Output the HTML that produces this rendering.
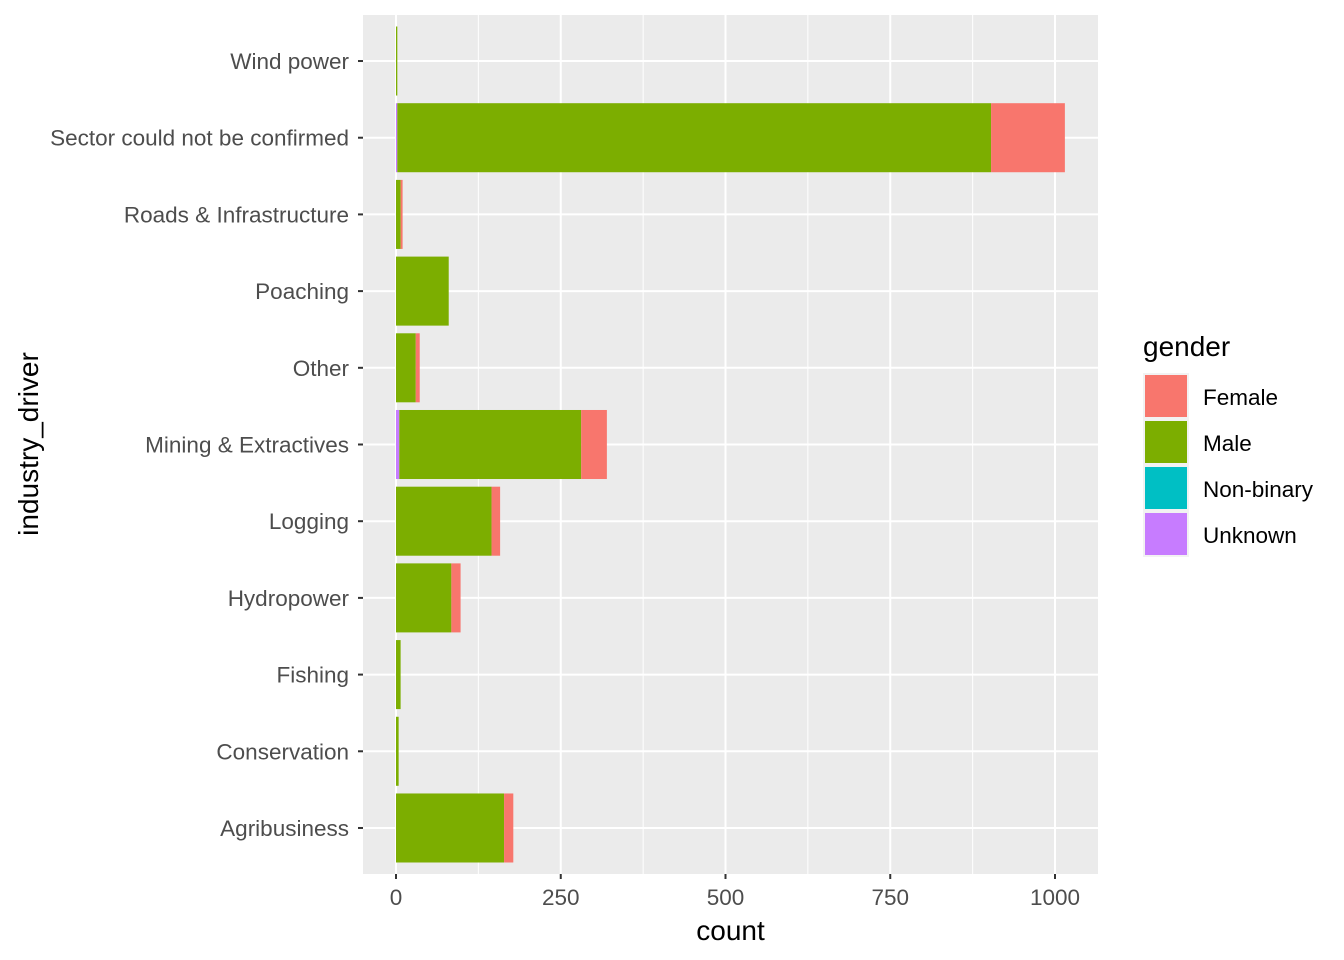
<!DOCTYPE html>
<html><head><meta charset="utf-8"><style>
body{margin:0;background:#fff}
svg{display:block;font-family:"Liberation Sans",Arial,sans-serif}
</style></head><body>
<svg id="c" width="1344" height="960"></svg>
<script>
const categories=["Agribusiness","Conservation","Fishing","Hydropower","Logging","Mining & Extractives","Other","Poaching","Roads & Infrastructure","Sector could not be confirmed","Wind power"];
const unknownVals=[0,0,0,0,0,5,0,0,0,2,0];
const nonbinaryVals=[0,0,0,0,0,0,0,0,0,0,0];
const maleVals=[164,4,7,84,145,276,30,80,7,901,2];
const femaleVals=[14,0,0,14,13,39,6,0,3,112,0];
const xTicks=[0,250,500,750,1000];
const seriesNames=["Female","Male","Non-binary","Unknown"];
const seriesColors=["#F8766D","#7CAE00","#00BFC4","#C77CFF"];

const NS="http://www.w3.org/2000/svg";
const svg=document.getElementById('c');
function el(t,a,p){const e=document.createElementNS(NS,t);for(const k in a)e.setAttribute(k,a[k]);(p||svg).appendChild(e);return e;}
const L=363,R=1098,T=15,B=874;
const x=v=>396+v*0.659;
const step=(B-T)/(categories.length+0.2);
const y=i=>B-step*(i+0.6);
const panel=el('rect',{x:L,y:T,width:R-L,height:B-T,fill:'#EBEBEB'});


for(let i=0;i<xTicks.length-1;i++){const m=(xTicks[i]+xTicks[i+1])/2;
 const g=el('line',{x1:x(m),x2:x(m),y1:T,y2:B,stroke:'#fff','stroke-width':1});
 }
xTicks.forEach(t=>{const g=el('line',{x1:x(t),x2:x(t),y1:T,y2:B,stroke:'#fff','stroke-width':2});
 });
categories.forEach((c,i)=>{const g=el('line',{x1:L,x2:R,y1:y(i),y2:y(i),stroke:'#fff','stroke-width':2});
 });
const bh=step*0.9;
categories.forEach((c,i)=>{
 let acc=0;
 [[unknownVals,3],[nonbinaryVals,2],[maleVals,1],[femaleVals,0]].forEach(([arr,ci])=>{
  const v=arr[i]; if(v<=0)return;
  const r=el('rect',{x:x(acc),y:y(i)-bh/2,width:x(acc+v)-x(acc),height:bh,fill:seriesColors[ci]});
  
  
  acc+=v;});
 const tk=el('line',{x1:L-5,x2:L,y1:y(i),y2:y(i),stroke:'#333','stroke-width':2});
 
 const tx=el('text',{x:L-14,y:y(i)+8,'text-anchor':'end','font-size':22.5,fill:'#4D4D4D'});
 tx.textContent=c;
});
xTicks.forEach(t=>{
 const tk=el('line',{x1:x(t),x2:x(t),y1:B,y2:B+5,stroke:'#333','stroke-width':2});
 
 const tx=el('text',{x:x(t),y:905,'text-anchor':'middle','font-size':22.5,fill:'#4D4D4D'});
 tx.textContent=t;
});
const xt=el('text',{x:(L+R)/2,y:940,'text-anchor':'middle','font-size':28,fill:'#000'});
xt.textContent='count';
const yt=el('text',{x:0,y:0,transform:'translate(38,444) rotate(-90)','text-anchor':'middle','font-size':28,fill:'#000'});
yt.textContent='industry_driver';
const lt=el('text',{x:1143,y:356,'font-size':28,fill:'#000'});
lt.textContent='gender';
seriesNames.forEach((n,i)=>{
 const ky=373+i*46;
 const bg=el('rect',{x:1143,y:ky,width:46,height:46,fill:'#F2F2F2'});
 
 const k=el('rect',{x:1145,y:ky+2,width:42,height:42,fill:seriesColors[i]});
 
 const t=el('text',{x:1203,y:ky+32,'font-size':22.5,fill:'#000'});
 t.textContent=n;
});
</script>
</body></html>
